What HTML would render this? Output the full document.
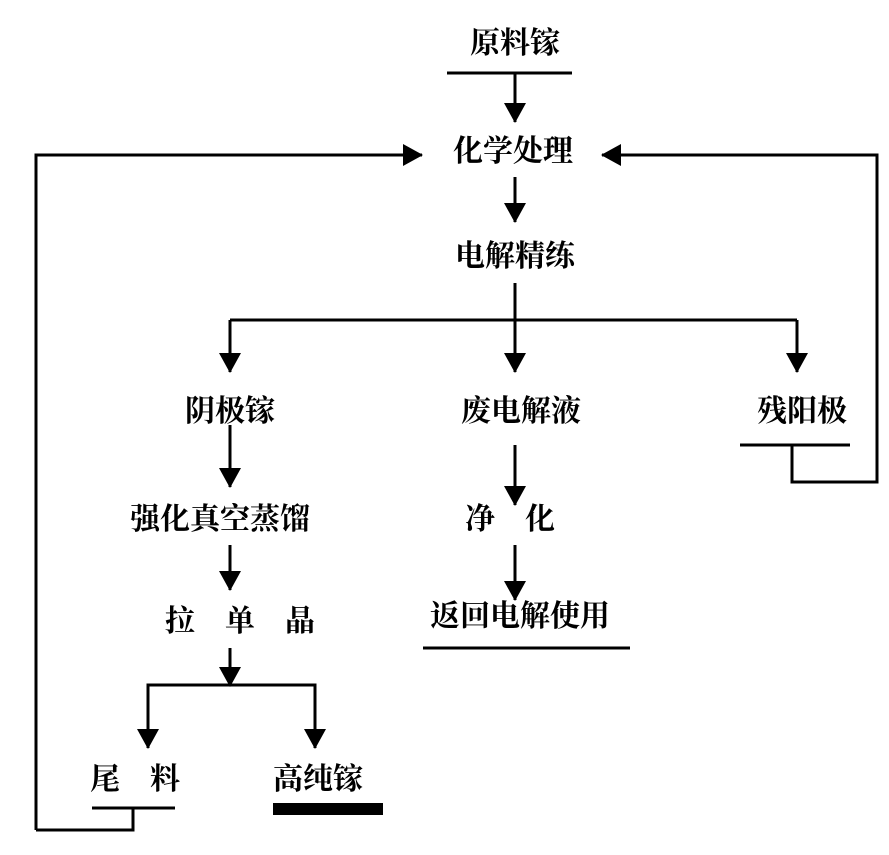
<!DOCTYPE html>
<html><head><meta charset="utf-8"><style>
html,body{margin:0;padding:0;background:#fff;}
text{font-family:"Liberation Serif","Noto Serif CJK SC",serif;font-size:30px;font-weight:bold;fill:#000;text-anchor:middle;}
</style></head><body>
<svg width="889" height="850" viewBox="0 0 889 850" xmlns="http://www.w3.org/2000/svg">
<defs>
<marker id="b" markerWidth="20" markerHeight="22" refX="19" refY="11" orient="auto" markerUnits="userSpaceOnUse"><path d="M0,0 L20,11 L0,22 z" fill="#000"/></marker></defs>
<g stroke="#000" stroke-width="3" fill="none">
<line x1="447" y1="73" x2="572" y2="73"/>
<line x1="515" y1="73" x2="515" y2="122" marker-end="url(#b)"/>
<polyline points="36,830 36,155 422,155" marker-end="url(#b)"/>
<polyline points="792,445 792,482 877,482 877,155 602,155" marker-end="url(#b)"/>
<line x1="515" y1="177" x2="515" y2="222" marker-end="url(#b)"/>
<line x1="515" y1="283" x2="515" y2="320"/>
<line x1="230" y1="320" x2="797" y2="320"/>
<line x1="230" y1="320" x2="230" y2="372" marker-end="url(#b)"/>
<line x1="515" y1="320" x2="515" y2="372" marker-end="url(#b)"/>
<line x1="797" y1="320" x2="797" y2="372" marker-end="url(#b)"/>
<line x1="740" y1="445" x2="850" y2="445"/>
<line x1="230" y1="425" x2="230" y2="487" marker-end="url(#b)"/>
<line x1="515" y1="445" x2="515" y2="505" marker-end="url(#b)"/>
<line x1="230" y1="545" x2="230" y2="590" marker-end="url(#b)"/>
<line x1="515" y1="545" x2="515" y2="600" marker-end="url(#b)"/>
<line x1="423" y1="648" x2="630" y2="648"/>
<line x1="230" y1="648" x2="230" y2="686" marker-end="url(#b)"/>
<polyline points="148,748 148,685 315,685 315,748"/>
<line x1="148" y1="700" x2="148" y2="748" marker-end="url(#b)"/>
<line x1="315" y1="700" x2="315" y2="748" marker-end="url(#b)"/>
<line x1="92" y1="808" x2="175" y2="808"/>
<polyline points="133,808 133,830 36,830"/>
</g>
<rect x="273" y="803" width="110" height="12" fill="#000"/>
<text x="515" y="53">原料镓</text>
<text x="513" y="161">化学处理</text>
<text x="515" y="266">电解精练</text>
<text x="230" y="421">阴极镓</text>
<text x="521" y="421">废电解液</text>
<text x="802" y="421">残阳极</text>
<text x="220" y="529">强化真空蒸馏</text>
<text x="510" y="529">净　化</text>
<text x="240" y="631">拉　单　晶</text>
<text x="520" y="626">返回电解使用</text>
<text x="135" y="789">尾　料</text>
<text x="318" y="789">高纯镓</text>
</svg>
</body></html>
